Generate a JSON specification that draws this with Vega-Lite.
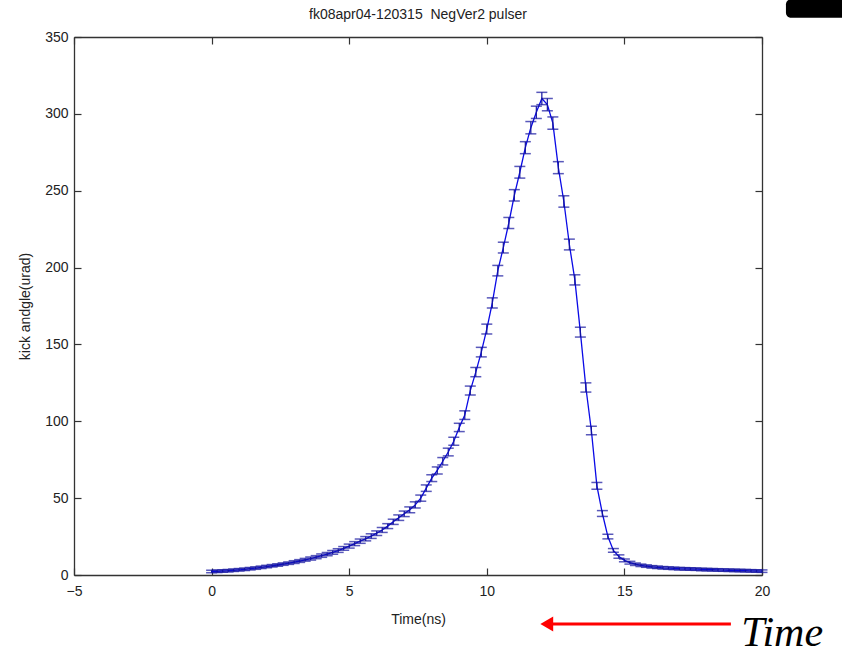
{
  "$schema": "https://vega.github.io/schema/vega-lite/v6.json",
  "width": 688,
  "height": 538,
  "autosize": "none",
  "padding": {"left": 74, "top": 37, "right": 80, "bottom": 81},
  "background": "white",
  "title": {"text": "fk08apr04-120315\u00a0\u00a0NegVer2 pulser", "font": "Liberation Sans", "fontSize": 14, "fontWeight": "normal", "color": "#222222", "offset": -23},
  "config": {
    "view": {"stroke": null},
    "axis": {"grid": false, "domainColor": "#333333", "tickColor": "#333333", "tickSize": -7, "labelFlush": false, "labelOverlap": false, "labelFont": "Liberation Sans", "labelFontSize": 14, "labelColor": "#222222", "titleFont": "Liberation Sans", "titleFontSize": 14, "titleFontWeight": "normal", "titleColor": "#222222", "domainWidth": 1.3, "tickWidth": 1.2}
  },
  "datasets": {
    "pulse": [
      {"t":0.0,"k":2.3,"e":0.8},{"t":0.2,"k":2.4,"e":0.8},{"t":0.4,"k":2.6,"e":0.8},{"t":0.6,"k":2.8,"e":0.8},{"t":0.8,"k":3.1,"e":0.8},
      {"t":1.0,"k":3.4,"e":0.8},{"t":1.2,"k":3.7,"e":0.8},{"t":1.4,"k":4.1,"e":0.8},{"t":1.6,"k":4.5,"e":0.8},{"t":1.8,"k":5.0,"e":0.8},
      {"t":2.0,"k":5.5,"e":0.8},{"t":2.2,"k":6.0,"e":0.8},{"t":2.4,"k":6.5,"e":0.8},{"t":2.6,"k":7.1,"e":0.8},{"t":2.8,"k":7.7,"e":0.8},
      {"t":3.0,"k":8.4,"e":0.9},{"t":3.2,"k":9.1,"e":0.9},{"t":3.4,"k":9.9,"e":0.9},{"t":3.6,"k":10.7,"e":1.0},{"t":3.8,"k":11.6,"e":1.0},
      {"t":4.0,"k":12.6,"e":1.1},{"t":4.2,"k":13.6,"e":1.1},{"t":4.4,"k":14.7,"e":1.2},{"t":4.6,"k":15.9,"e":1.2},{"t":4.8,"k":17.3,"e":1.2},
      {"t":5.0,"k":18.8,"e":1.3},{"t":5.2,"k":20.4,"e":1.3},{"t":5.4,"k":22.0,"e":1.4},{"t":5.6,"k":23.6,"e":1.4},{"t":5.8,"k":25.3,"e":1.5},
      {"t":6.0,"k":27.2,"e":1.5},{"t":6.2,"k":29.3,"e":1.6},{"t":6.4,"k":31.8,"e":1.6},{"t":6.6,"k":34.6,"e":1.7},{"t":6.8,"k":37.3,"e":1.8},
      {"t":7.0,"k":39.8,"e":1.8},{"t":7.2,"k":42.4,"e":1.9},{"t":7.4,"k":45.6,"e":2.0},{"t":7.6,"k":50.0,"e":2.0},{"t":7.8,"k":56.5,"e":2.1},
      {"t":8.0,"k":63.0,"e":2.2},{"t":8.2,"k":68.0,"e":2.3},{"t":8.4,"k":74.0,"e":2.4},{"t":8.6,"k":80.0,"e":2.5},{"t":8.8,"k":87.0,"e":2.6},
      {"t":9.0,"k":96.0,"e":2.7},{"t":9.2,"k":104.0,"e":2.8},{"t":9.4,"k":120.0,"e":2.9},{"t":9.6,"k":132.0,"e":3.0},{"t":9.8,"k":145.0,"e":3.1},
      {"t":10.0,"k":160.0,"e":3.2},{"t":10.2,"k":177.0,"e":3.3},{"t":10.4,"k":198.0,"e":3.4},{"t":10.6,"k":213.0,"e":3.5},{"t":10.8,"k":229.0,"e":3.6},
      {"t":11.0,"k":247.0,"e":3.7},{"t":11.2,"k":262.0,"e":3.8},{"t":11.4,"k":278.0,"e":3.9},{"t":11.6,"k":291.0,"e":4.0},{"t":11.8,"k":301.0,"e":4.0},
      {"t":12.0,"k":310.0,"e":4.0},{"t":12.2,"k":306.0,"e":4.0},{"t":12.4,"k":294.0,"e":4.0},{"t":12.6,"k":265.0,"e":3.9},{"t":12.8,"k":243.0,"e":3.7},
      {"t":13.0,"k":215.0,"e":3.5},{"t":13.2,"k":192.0,"e":3.3},{"t":13.4,"k":158.0,"e":3.2},{"t":13.6,"k":122.0,"e":3.0},{"t":13.8,"k":94.0,"e":2.7},
      {"t":14.0,"k":58.0,"e":2.2},{"t":14.2,"k":40.0,"e":1.9},{"t":14.4,"k":25.0,"e":1.5},{"t":14.6,"k":16.0,"e":1.2},{"t":14.8,"k":12.0,"e":1.1},
      {"t":15.0,"k":9.5,"e":0.9},{"t":15.2,"k":8.0,"e":0.9},{"t":15.4,"k":7.0,"e":0.8},{"t":15.6,"k":6.3,"e":0.8},{"t":15.8,"k":5.8,"e":0.8},
      {"t":16.0,"k":5.3,"e":0.8},{"t":16.2,"k":5.0,"e":0.8},{"t":16.4,"k":4.7,"e":0.8},{"t":16.6,"k":4.5,"e":0.8},{"t":16.8,"k":4.3,"e":0.8},
      {"t":17.0,"k":4.1,"e":0.8},{"t":17.2,"k":4.0,"e":0.8},{"t":17.4,"k":3.9,"e":0.8},{"t":17.6,"k":3.8,"e":0.8},{"t":17.8,"k":3.6,"e":0.8},
      {"t":18.0,"k":3.5,"e":0.8},{"t":18.2,"k":3.4,"e":0.8},{"t":18.4,"k":3.3,"e":0.8},{"t":18.6,"k":3.2,"e":0.8},{"t":18.8,"k":3.1,"e":0.8},
      {"t":19.0,"k":3.0,"e":0.8},{"t":19.2,"k":2.9,"e":0.8},{"t":19.4,"k":2.8,"e":0.8},{"t":19.6,"k":2.7,"e":0.8},{"t":19.8,"k":2.6,"e":0.8},
      {"t":20.0,"k":2.5,"e":0.8}
    ],
    "arrow": [{"x1": 12.3, "x2": 18.87, "y": -31.9, "tip": 12.18}],
    "label": [{"x": 19.25, "y": -46.5, "text": "Time"}],
    "corner": [{"x1": 20.87, "x2": 23.2, "y1": 374.5, "y2": 362.5}]
  },
  "resolve": {"axis": {"x": "independent", "y": "independent"}},
  "layer": [
    {
      "data": {"name": "pulse"},
      "mark": {"type": "line", "color": "#0a0ae6", "strokeWidth": 1.3},
      "encoding": {
        "x": {"field": "t", "type": "quantitative", "scale": {"domain": [-5, 20], "nice": false, "zero": false},
              "axis": {"orient": "bottom", "values": [-5, 0, 5, 10, 15, 20], "title": "Time(ns)", "labelPadding": 16, "titlePadding": 14}},
        "y": {"field": "k", "type": "quantitative", "scale": {"domain": [0, 350], "nice": false},
              "axis": {"orient": "left", "values": [0, 50, 100, 150, 200, 250, 300, 350], "title": "kick andgle(urad)", "labelPadding": 13, "titlePadding": 12}}
      }
    },
    {
      "data": {"name": "pulse"},
      "mark": {"type": "errorbar", "color": "#12129e", "rule": {"strokeWidth": 1.2}, "ticks": {"size": 11, "thickness": 1.5}},
      "encoding": {
        "x": {"field": "t", "type": "quantitative", "scale": {"domain": [-5, 20], "nice": false, "zero": false},
              "axis": {"orient": "top", "values": [-5, 0, 5, 10, 15, 20], "labels": false, "title": null}},
        "y": {"field": "k", "type": "quantitative", "scale": {"domain": [0, 350], "nice": false},
              "axis": {"orient": "right", "values": [0, 50, 100, 150, 200, 250, 300, 350], "labels": false, "title": null}},
        "yError": {"field": "e"}
      }
    },
    {
      "data": {"name": "arrow"},
      "mark": {"type": "rule", "color": "#ff0000", "strokeWidth": 3},
      "encoding": {
        "x": {"field": "x1", "type": "quantitative", "scale": {"domain": [-5, 20], "nice": false, "zero": false}, "axis": null},
        "x2": {"field": "x2"},
        "y": {"field": "y", "type": "quantitative", "scale": {"domain": [0, 350], "nice": false}, "axis": null}
      }
    },
    {
      "data": {"name": "arrow"},
      "mark": {"type": "point", "shape": "triangle-left", "filled": true, "color": "#ff0000", "size": 220, "opacity": 1},
      "encoding": {
        "x": {"field": "tip", "type": "quantitative", "scale": {"domain": [-5, 20], "nice": false, "zero": false}, "axis": null},
        "y": {"field": "y", "type": "quantitative", "scale": {"domain": [0, 350], "nice": false}, "axis": null}
      }
    },
    {
      "data": {"name": "label"},
      "mark": {"type": "text", "font": "Liberation Serif", "fontStyle": "italic", "fontSize": 42, "align": "left", "baseline": "alphabetic", "color": "#000000"},
      "encoding": {
        "x": {"field": "x", "type": "quantitative", "scale": {"domain": [-5, 20], "nice": false, "zero": false}, "axis": null},
        "y": {"field": "y", "type": "quantitative", "scale": {"domain": [0, 350], "nice": false}, "axis": null},
        "text": {"field": "text"}
      }
    },
    {
      "data": {"name": "corner"},
      "mark": {"type": "rect", "color": "#000000", "cornerRadius": 5, "opacity": 1},
      "encoding": {
        "x": {"field": "x1", "type": "quantitative", "scale": {"domain": [-5, 20], "nice": false, "zero": false}, "axis": null},
        "x2": {"field": "x2"},
        "y": {"field": "y1", "type": "quantitative", "scale": {"domain": [0, 350], "nice": false}, "axis": null},
        "y2": {"field": "y2"}
      }
    }
  ]
}
